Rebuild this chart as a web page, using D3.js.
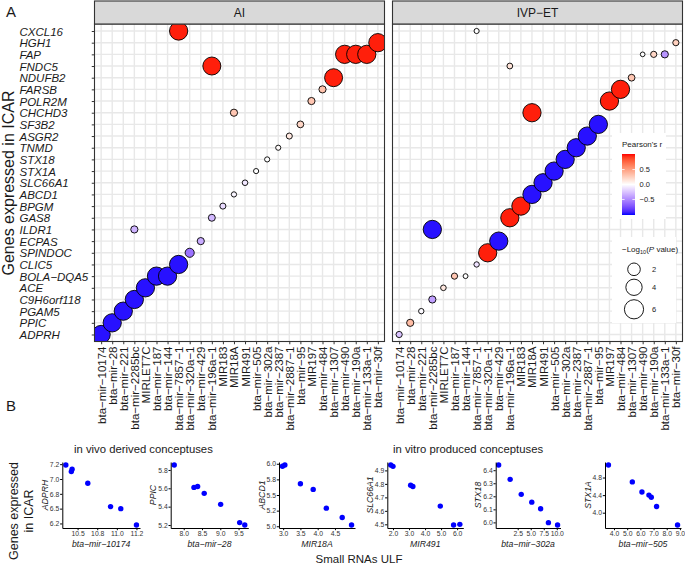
<!DOCTYPE html>
<html><head><meta charset="utf-8">
<script src="https://cdn.jsdelivr.net/npm/d3@7"></script>
<style>body{margin:0;background:#fff}svg{display:block}text{font-family:"Liberation Sans",Arial,Helvetica,sans-serif}</style>
</head><body><svg id="c" width="685" height="567"></svg>
<script>
// ---------------- DATA ----------------
const genes = ["CXCL16","HGH1","FAP","FNDC5","NDUFB2","FARSB","POLR2M","CHCHD3","SF3B2","ASGR2","TNMD","STX18","STX1A","SLC66A1","ABCD1","BPGM","GAS8","ILDR1","ECPAS","SPINDOC","CLIC5","BOLA-DQA5","ACE","C9H6orf118","PGAM5","PPIC","ADPRH"];
const mirnas = ["bta-mir-10174","bta-mir-28","bta-mir-221","bta-mir-2285bc","MIRLET7C","bta-mir-187","bta-mir-144","bta-mir-7857-1","bta-mir-320a-1","bta-mir-429","bta-mir-196a-1","MIR183","MIR18A","MIR491","bta-mir-505","bta-mir-302a","bta-mir-2387","bta-mir-2887-1","bta-mir-95","MIR197","bta-mir-484","bta-mir-1307","bta-mir-490","bta-mir-190a","bta-mir-133a-1","bta-mir-30f"];
const panels = ["AI","IVP-ET"];
// [gene, miRNA, Pearson's r, -log10(P value)]
const aiBubbles = [
  ["ADPRH","bta-mir-10174",-0.97,5.3],["PPIC","bta-mir-28",-0.97,5.3],["PGAM5","bta-mir-221",-0.97,5.3],
  ["C9H6orf118","bta-mir-2285bc",-0.97,5.3],["ILDR1","bta-mir-2285bc",-0.32,0.32],["ACE","MIRLET7C",-0.97,5.3],
  ["BOLA-DQA5","bta-mir-187",-0.97,5.3],["BOLA-DQA5","bta-mir-144",-0.97,5.3],["CLIC5","bta-mir-7857-1",-0.97,5.3],
  ["CXCL16","bta-mir-7857-1",0.97,5.3],["SPINDOC","bta-mir-320a-1",-0.6,0.75],["ECPAS","bta-mir-429",-0.35,0.32],
  ["GAS8","bta-mir-196a-1",-0.3,0.28],["FNDC5","bta-mir-196a-1",0.97,5.1],["BPGM","MIR183",-0.15,0.15],
  ["ABCD1","MIR18A",-0.04,0.07],["CHCHD3","MIR18A",0.3,0.32],["SLC66A1","MIR491",-0.1,0.1],
  ["STX1A","bta-mir-505",0.0,0.06],["STX18","bta-mir-302a",0.0,0.06],["TNMD","bta-mir-2387",0.02,0.06],
  ["ASGR2","bta-mir-2887-1",0.12,0.15],["SF3B2","bta-mir-95",0.22,0.25],["POLR2M","MIR197",0.3,0.32],
  ["FARSB","bta-mir-484",0.32,0.32],["NDUFB2","bta-mir-1307",0.97,5.1],["FAP","bta-mir-490",0.97,5.3],
  ["FAP","bta-mir-190a",0.97,5.3],["FAP","bta-mir-133a-1",0.97,5.3],["HGH1","bta-mir-30f",0.97,5.3]
];
const ivpBubbles = [
  ["ADPRH","bta-mir-10174",-0.25,0.17],["PPIC","bta-mir-28",0.35,0.32],["PGAM5","bta-mir-221",-0.02,0.08],
  ["C9H6orf118","bta-mir-2285bc",-0.4,0.32],["ILDR1","bta-mir-2285bc",-0.97,5.3],["ACE","MIRLET7C",0.12,0.1],
  ["BOLA-DQA5","bta-mir-187",0.3,0.17],["BOLA-DQA5","bta-mir-144",0.0,0.04],["CXCL16","bta-mir-7857-1",0.0,0.06],
  ["CLIC5","bta-mir-7857-1",-0.12,0.08],["SPINDOC","bta-mir-320a-1",0.97,5.3],["ECPAS","bta-mir-429",-0.97,5.3],
  ["GAS8","bta-mir-196a-1",0.97,5.3],["FNDC5","bta-mir-196a-1",0.15,0.12],["BPGM","MIR183",0.97,5.3],
  ["ABCD1","MIR18A",-0.97,5.3],["CHCHD3","MIR18A",0.97,5.3],["SLC66A1","MIR491",-0.97,5.3],
  ["STX1A","bta-mir-505",-0.97,5.3],["STX18","bta-mir-302a",-0.97,5.3],["TNMD","bta-mir-2387",-0.97,5.3],
  ["ASGR2","bta-mir-2887-1",-0.97,5.3],["SF3B2","bta-mir-95",-0.97,5.3],["POLR2M","MIR197",0.97,5.3],
  ["FARSB","bta-mir-484",0.97,5.3],["NDUFB2","bta-mir-1307",0.3,0.25],["FAP","bta-mir-490",0.0,0.03],
  ["FAP","bta-mir-190a",0.22,0.17],["FAP","bta-mir-133a-1",-0.45,0.32],["HGH1","bta-mir-30f",0.25,0.17]
];
const colorTicks = [0.5, 0.0, -0.5];
const sizeTicks = [2, 4, 6];

// panel B
const groupTitles = ["in vivo derived conceptuses","in vitro produced conceptuses"];
const scGenes  = ["ADPRH","PPIC","ABCD1","SLC66A1","STX18","STX1A"];
const scMirnas = ["bta-mir-10174","bta-mir-28","MIR18A","MIR491","bta-mir-302a","bta-mir-505"];
const scX = [
  [10.35,10.43,10.42,10.63,10.92,11.05,11.25],
  [7.74,8.28,8.38,8.56,9.01,9.53,9.67],
  [2.98,3.05,3.5,3.87,4.25,4.71,4.98],
  [1.86,2.0,3.1,3.24,4.95,5.78,6.17],
  [-1.16,1.05,3.18,5.2,6.9,8.4,10.15],
  [3.58,5.39,6.12,6.65,6.83,7.23,8.82]
];
const scY = [
  [7.236,7.164,7.125,6.927,6.534,6.5,6.224],
  [5.854,5.61,5.62,5.545,5.425,5.226,5.2],
  [5.96,5.98,5.68,5.59,5.29,5.14,5.02],
  [4.94,4.93,4.79,4.78,4.635,4.495,4.5],
  [6.44,6.33,6.215,6.155,6.105,5.998,5.98],
  [5.085,4.70,4.47,4.40,4.35,4.14,3.72]
];
const scXTicks = [[10.5,10.75,11,11.25],[8,8.5,9,9.5],[3,3.5,4,4.5],[2,3,4,5,6],[2.5,5,7.5,10],[4,5,6,7,8,9]];
const scXLabels = [["10.5","10.8","11.0","11.2"],["8.0","8.5","9.0","9.5"],["3.0","3.5","4.0","4.5"],["2.0","3.0","4.0","5.0","6.0"],["2.5","5.0","7.5","10.0"],["4.0","5.0","6.0","7.0","8.0","9.0"]];
const scYTicks = [[6.25,6.5,6.75,7,7.25],[5.2,5.4,5.6,5.8],[5,5.25,5.5,5.75,6],[4.5,4.6,4.7,4.8,4.9],[6.0,6.1,6.2,6.3,6.4],[4.0,4.4,4.8]];
const scYLabels = [["6.2","6.5","6.8","7.0","7.2"],["5.2","5.4","5.6","5.8"],["5.0","5.2","5.5","5.8","6.0"],["4.5","4.6","4.7","4.8","4.9"],["6.0","6.1","6.2","6.3","6.4"],["4.0","4.4","4.8"]];

// ---------------- DRAW ----------------
const svg = d3.select("#c");
const disp = s => s.replace(/-/g, "\u2212");
const ink = "#1a1a1a";

const panelTop = 24, panelBottom = 341.5, stripTop = 1;
const panelX = {"AI":[94.5,384.5], "IVP-ET":[392.5,682.5]};
const y = d3.scalePoint().domain(genes).range([panelTop, panelBottom]).padding(0.6);
const color = d3.scaleLinear().domain([-1,0,1]).range(["#0000ff","#ffffff","#ff0000"]).interpolate(d3.interpolateLab);
const size = d3.scaleSqrt().domain([0,6]).range([1.8,9.6]);

svg.append("text").attr("x",6).attr("y",17).attr("font-size",15).attr("fill",ink).text("A");

panels.forEach((p,pi) => {
  const [x0,x1] = panelX[p];
  const x = d3.scalePoint().domain(mirnas).range([x0,x1]).padding(0.6);
  const g = svg.append("g");
  g.append("rect").attr("x",x0).attr("y",panelTop).attr("width",x1-x0).attr("height",panelBottom-panelTop).attr("fill","#fff");
  g.selectAll(".gx").data(mirnas).join("line").attr("x1",d=>x(d)).attr("x2",d=>x(d)).attr("y1",panelTop).attr("y2",panelBottom).attr("stroke","#e8e8e8").attr("stroke-width",1.4);
  g.selectAll(".gy").data(genes).join("line").attr("y1",d=>y(d)).attr("y2",d=>y(d)).attr("x1",x0).attr("x2",x1).attr("stroke","#e8e8e8").attr("stroke-width",1.4);
  const data = (pi===0?aiBubbles:ivpBubbles).slice().sort((a,b)=>mirnas.indexOf(a[1])-mirnas.indexOf(b[1]));
  const clip = "clip"+pi;
  svg.append("clipPath").attr("id",clip).append("rect").attr("x",x0).attr("y",panelTop).attr("width",x1-x0).attr("height",panelBottom-panelTop);
  g.append("g").attr("clip-path",`url(#${clip})`).selectAll("circle").data(data).join("circle")
    .attr("cx",d=>x(d[1])).attr("cy",d=>y(d[0])).attr("r",d=>size(d[3]))
    .attr("fill",d=>color(d[2])).attr("stroke","#000").attr("stroke-width",0.9);
  g.append("rect").attr("x",x0).attr("y",panelTop).attr("width",x1-x0).attr("height",panelBottom-panelTop).attr("fill","none").attr("stroke","#333").attr("stroke-width",1.1);
  g.append("rect").attr("x",x0).attr("y",stripTop).attr("width",x1-x0).attr("height",panelTop-stripTop).attr("fill","#d9d9d9").attr("stroke","#333").attr("stroke-width",1.1);
  g.append("text").attr("x",(x0+x1)/2).attr("y",17).attr("text-anchor","middle").attr("font-size",12).attr("fill",ink).text(disp(p));
  const xa = g.append("g").attr("transform",`translate(0,${panelBottom})`).call(d3.axisBottom(x).tickSize(2.75).tickSizeOuter(0).tickFormat(disp));
  xa.select(".domain").remove();
  xa.selectAll(".tick line").attr("stroke","#333");
  xa.selectAll(".tick text").attr("transform","rotate(-90)").attr("text-anchor","end").attr("x",-5).attr("y",0).attr("dy","0.35em")
    .attr("font-size",11.5).attr("fill",ink).attr("font-family",null);
  if (pi===0) {
    const ya = g.append("g").attr("transform",`translate(${x0},0)`).call(d3.axisLeft(y).tickSize(2.75).tickSizeOuter(0).tickFormat(disp));
    ya.select(".domain").remove();
    ya.selectAll(".tick line").attr("stroke","#333");
    ya.selectAll(".tick text").attr("text-anchor","start").attr("x",19.5-x0).attr("dy","0.36em")
      .attr("font-size",11.5).attr("font-style","italic").attr("fill",ink).attr("font-family",null);
  }
});

svg.append("text").attr("transform","translate(13.5,183) rotate(-90)").attr("text-anchor","middle").attr("font-size",16).attr("fill",ink).text("Genes expressed in ICAR");

// legends
const lg = svg.append("g");
lg.append("rect").attr("x",612).attr("y",133).attr("width",54).attr("height",86).attr("fill","#fff");
lg.append("text").attr("x",622).attr("y",147).attr("font-size",8).attr("fill",ink).text("Pearson's r");
const cbTop = 154, cbBot = 215, cbX = 622, cbW = 13;
const cb = d3.scaleLinear().domain([1.02,-1.02]).range([cbTop,cbBot]);
const grad = svg.append("defs").append("linearGradient").attr("id","cbg").attr("x1",0).attr("x2",0).attr("y1",0).attr("y2",1);
d3.range(0,1.0001,0.05).forEach(t => grad.append("stop").attr("offset",t).attr("stop-color",color(Math.max(-1,Math.min(1,cb.invert(cbTop+t*(cbBot-cbTop)))))));
lg.append("rect").attr("x",cbX).attr("y",cbTop).attr("width",cbW).attr("height",cbBot-cbTop).attr("fill","url(#cbg)");
colorTicks.forEach(v => {
  lg.append("line").attr("x1",cbX).attr("x2",cbX+2.6).attr("y1",cb(v)).attr("y2",cb(v)).attr("stroke","#fff").attr("stroke-width",0.8);
  lg.append("line").attr("x1",cbX+cbW-2.6).attr("x2",cbX+cbW).attr("y1",cb(v)).attr("y2",cb(v)).attr("stroke","#fff").attr("stroke-width",0.8);
  lg.append("text").attr("x",cbX+cbW+4.5).attr("y",cb(v)).attr("dy","0.35em").attr("font-size",7.5).attr("fill",ink).text(d3.format(".1f")(v).replace("-","\u2212"));
});
lg.append("rect").attr("x",612).attr("y",237).attr("width",64).attr("height",86).attr("fill","#fff");
const st = lg.append("text").attr("x",622).attr("y",252).attr("font-size",8).attr("fill",ink);
st.append("tspan").text("\u2212Log");
st.append("tspan").attr("font-size",5.5).attr("dy",2).text("10");
st.append("tspan").attr("dy",-2).text("(");
st.append("tspan").attr("font-style","italic").text("P");
st.append("tspan").text(" value)");
const sizeY = [269.3, 287.3, 309.3];
sizeTicks.forEach((v,i) => {
  lg.append("circle").attr("cx",634).attr("cy",sizeY[i]).attr("r",size(v)).attr("fill","#fff").attr("stroke","#000").attr("stroke-width",0.9);
  lg.append("text").attr("x",652).attr("y",sizeY[i]).attr("dy","0.35em").attr("font-size",7.5).attr("fill",ink).text(v);
});

// ---------------- PANEL B ----------------
svg.append("text").attr("x",6).attr("y",411).attr("font-size",15).attr("fill",ink).text("B");
svg.append("text").attr("x",74).attr("y",452.5).attr("font-size",11.3).attr("fill",ink).text(groupTitles[0]);
svg.append("text").attr("x",393).attr("y",452.5).attr("font-size",11.3).attr("fill",ink).text(groupTitles[1]);
const yt = svg.append("text").attr("transform","translate(20,511) rotate(-90)").attr("text-anchor","middle").attr("font-size",12.5).attr("fill",ink);
yt.append("tspan").attr("x",0).attr("dy",-2).text("Genes expressed");
yt.append("tspan").attr("x",0).attr("dy",15).text("in ICAR");
svg.append("text").attr("x",359).attr("y",563).attr("text-anchor","middle").attr("font-size",11.5).attr("fill",ink).text("Small RNAs ULF");

const scLeft = [62.3,170.7,279,387.3,495.7,605];
const scRight = [140,248.3,355,463.3,560.5,681];
const scTop = 462, scBot = 528;
scGenes.forEach((gname,i) => {
  const xe = d3.extent(scX[i]), ye = d3.extent(scY[i]);
  const px = (xe[1]-xe[0])*0.05, py = (ye[1]-ye[0])*0.05;
  const xs = d3.scaleLinear().domain([xe[0]-px, xe[1]+px]).range([scLeft[i], scRight[i]]);
  const ys = d3.scaleLinear().domain([ye[0]-py, ye[1]+py]).range([scBot, scTop]);
  const g = svg.append("g");
  g.selectAll("circle").data(scX[i]).join("circle").attr("cx",d=>xs(d)).attr("cy",(d,j)=>ys(scY[i][j])).attr("r",2.7).attr("fill","#0000ff");
  const xa = g.append("g").attr("transform",`translate(0,${scBot})`).call(d3.axisBottom(xs).tickValues(scXTicks[i]).tickFormat((d,j)=>scXLabels[i][j]).tickSize(2.2).tickSizeOuter(0));
  const ya = g.append("g").attr("transform",`translate(${scLeft[i]},0)`).call(d3.axisLeft(ys).tickValues(scYTicks[i]).tickFormat((d,j)=>scYLabels[i][j]).tickSize(2.2).tickSizeOuter(0));
  [xa,ya].forEach(a => {
    a.select(".domain").attr("stroke","#000").attr("stroke-width",1);
    a.selectAll(".tick line").attr("stroke","#000");
    a.selectAll(".tick text").attr("font-size",6.8).attr("fill","#333").attr("font-family",null);
  });
  xa.selectAll(".tick text").attr("y",3.4).attr("dy","0.71em");
  ya.selectAll(".tick text").attr("x",-3);
  g.append("text").attr("x",(scLeft[i]+scRight[i])/2).attr("y",546.5).attr("text-anchor","middle").attr("font-size",8.7).attr("font-style","italic").attr("fill",ink).text(disp(scMirnas[i]));
  g.append("text").attr("transform",`translate(${scLeft[i]-14.5},${(scTop+scBot)/2}) rotate(-90)`).attr("text-anchor","middle").attr("font-size",8.7).attr("font-style","italic").attr("fill",ink).text(disp(gname));
});
</script></body></html>
